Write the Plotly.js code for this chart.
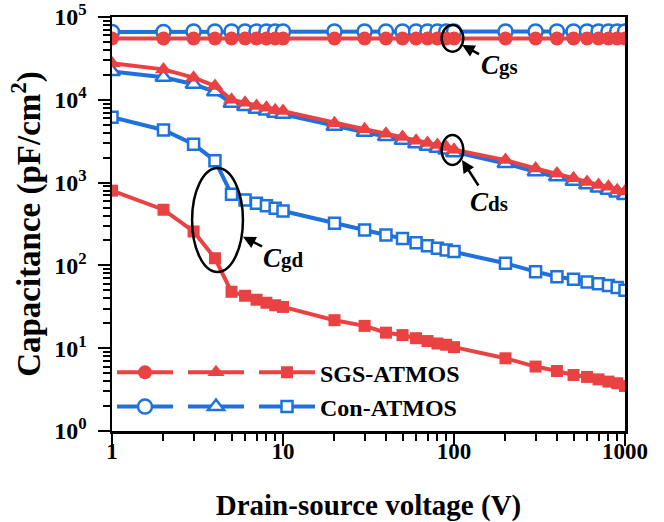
<!DOCTYPE html>
<html><head><meta charset="utf-8">
<script src="https://cdn.plot.ly/plotly-3.0.1.min.js"></script>
<style>html,body{margin:0;padding:0;background:#fff}</style>
</head><body>
<div id="chart" style="width:664px;height:522px"></div>
<script>
const voltage = [1,2,3,4,5,6,7,8,9,10,20,30,40,50,60,70,80,90,100,200,300,400,500,600,700,800,900,1000];
const sgsCgs = [55000,55000,55000,55000,55000,55000,55000,55000,55000,55000,55000,55000,55000,55000,55000,55000,55000,55000,55000,55000,55000,55000,55000,55000,55000,55000,55000,55000];
const conCgs = [66000,66000,67000,67000,67000,67000,67000,67000,67000,67000,67000,67000,67000,67000,67000,67000,67000,67000,67000,67000,67000,67000,67000,67000,67000,67000,67000,67000];
const sgsCds = [27600,23300,18500,14700,10000,9200,8400,8000,7500,7300,5200,4400,3900,3550,3200,3000,2850,2700,2500,1870,1480,1290,1130,1020,935,890,810,780];
const conCds = [21900,18700,15400,12500,9100,8300,7700,7300,6900,6700,4800,4050,3600,3250,2950,2750,2600,2480,2300,1700,1350,1180,1040,940,860,810,750,700];
const sgsCgd = [800,470,257,122,48,43,38.5,35.4,33,31.5,21.8,18.6,15.4,14.4,13.2,12.2,11.4,11,10.3,7.55,6.0,5.3,4.75,4.5,4.2,3.95,3.77,3.5];
const conCgd = [6150,4320,2900,1840,723,617,563,525,490,454,322,268,233,212,188,173,161,153,147,106,84,73,68,63,60,57,54,50];
const xTickVals = [1,10,100,1000];
const xTickText = ['1','10','100','1000'];
const yTickVals = [1,10,100,1000,10000,100000];
const yTickText = ['10<sup>0</sup>','10<sup>1</sup>','10<sup>2</sup>','10<sup>3</sup>','10<sup>4</sup>','10<sup>5</sup>'];

const RED = '#EA4242', BLUE = '#1F71DC';
const FONT = 'Liberation Serif, Times New Roman, serif';

function tr(y, color, symbol, size, open, group, rank, name) {
  return {
    x: voltage, y: y, type: 'scatter', mode: 'lines+markers',
    name: name, legendgroup: group, legendrank: rank,
    line: {color: color, width: 4},
    marker: {symbol: symbol, size: size, color: open ? '#ffffff' : color,
             line: {color: color, width: open ? 2.5 : 0}}
  };
}
const traces = [
  tr(conCgs, BLUE, 'circle', 14, true, 'gs', 2, ''),
  tr(sgsCgs, RED, 'circle', 14, false, 'gs', 1, ''),
  tr(conCds, BLUE, 'triangle-up', 14, true, 'ds', 4, ''),
  tr(sgsCds, RED, 'triangle-up', 15, false, 'ds', 3, ''),
  tr(conCgd, BLUE, 'square', 11, true, 'gd', 6, 'Con-ATMOS'),
  tr(sgsCgd, RED, 'square', 12, false, 'gd', 5, 'SGS-ATMOS')
];

const labelFont = {family: FONT, size: 27, color: '#000', weight: 'bold'};
function lbl(sub) { return '<i>C</i><span style="font-size:21px">' + sub + '</span>'; }

const minorTicks = {ticks: 'outside', ticklen: 7, tickwidth: 2, tickcolor: '#000', showgrid: false, dtick: 'D1'};

const layout = {
  width: 664, height: 522,
  margin: {l: 112, r: 39, t: 17, b: 91},
  paper_bgcolor: '#fff', plot_bgcolor: '#fff',
  font: {family: FONT, color: '#000', weight: 'bold'},
  showlegend: true,
  legend: {
    orientation: 'h', traceorder: 'grouped', x: 0.0, y: 0.195, xanchor: 'left', yanchor: 'top',
    bgcolor: 'rgba(0,0,0,0)', itemwidth: 56, tracegroupgap: 0,
    font: {family: FONT, size: 24, color: '#000', weight: 'bold'}, itemclick: false
  },
  xaxis: {
    type: 'log', range: [0, 3], tickvals: xTickVals, ticktext: xTickText,
    ticks: 'outside', ticklen: 12, tickwidth: 2, tickcolor: '#000', ticklabelstandoff: -14,
    minor: minorTicks,
    showline: true, linewidth: 2.5, linecolor: '#000', mirror: true, showgrid: false, zeroline: false,
    tickfont: {family: FONT, size: 23, color: '#000', weight: 'bold'},
    title: {text: 'Drain-source voltage (V)', font: {family: FONT, size: 29, color: '#000', weight: 'bold'}, standoff: 32}
  },
  yaxis: {
    type: 'log', range: [0, 5], tickvals: yTickVals, ticktext: yTickText,
    ticks: 'outside', ticklen: 12, tickwidth: 2, tickcolor: '#000', ticklabelstandoff: 6,
    minor: minorTicks,
    showline: true, linewidth: 2.5, linecolor: '#000', mirror: true, showgrid: false, zeroline: false,
    tickfont: {family: FONT, size: 24, color: '#000', weight: 'bold'},
    title: {text: 'Capacitance (pF/cm<sup>2</sup>)', font: {family: FONT, size: 33, color: '#000', weight: 'bold'}, standoff: 4}
  },
  shapes: [
    {type: 'circle', xref: 'x', yref: 'y', x0: 84.7, x1: 113.3, y0: 38100, y1: 80000, line: {color: '#000', width: 2.5}},
    {type: 'circle', xref: 'x', yref: 'y', x0: 84.7, x1: 113.3, y0: 1633, y1: 3758, line: {color: '#000', width: 2.5}},
    {type: 'circle', xref: 'x', yref: 'y', x0: 2.94, x1: 5.83, y0: 83.2, y1: 1500, line: {color: '#000', width: 2.5}}
  ],
  annotations: [
    {x: 2.047, y: 4.662, xref: 'x', yref: 'y', ax: 37, ay: 20, text: lbl('gs'), showarrow: true, arrowhead: 2, arrowsize: 1, arrowwidth: 2.5, arrowcolor: '#000', font: labelFont},
    {x: 2.047, y: 3.273, xref: 'x', yref: 'y', ax: 27, ay: 42, text: lbl('ds'), showarrow: true, arrowhead: 2, arrowsize: 1, arrowwidth: 2.5, arrowcolor: '#000', font: labelFont},
    {x: 0.766, y: 2.346, xref: 'x', yref: 'y', ax: 41, ay: 21, text: lbl('gd'), showarrow: true, arrowhead: 2, arrowsize: 1, arrowwidth: 2.5, arrowcolor: '#000', font: labelFont}
  ]
};
Plotly.newPlot('chart', traces, layout, {displayModeBar: false, staticPlot: true});
</script>
</body></html>
